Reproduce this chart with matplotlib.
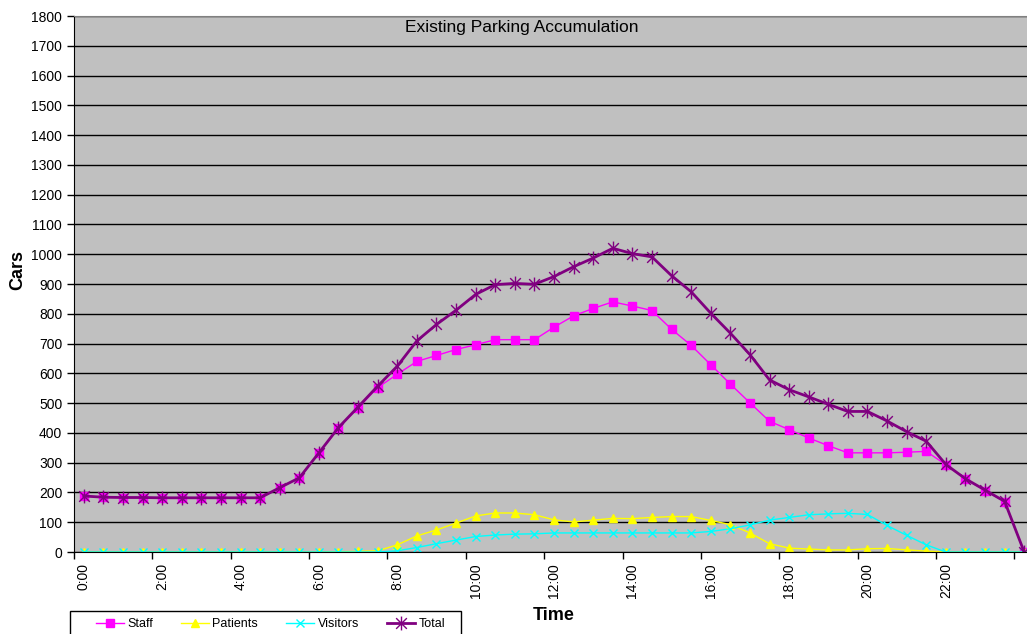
import numpy as np
import matplotlib.pyplot as plt
from matplotlib.path import Path
from matplotlib.patches import Rectangle

plt.rcParams['font.family'] = ['Liberation Sans', 'DejaVu Sans']

# half-hour counts from 0:00 to 24:00
times = ["%d:%02d" % (h // 2, 30 * (h % 2)) for h in range(49)]

staff = [188, 184, 183, 183, 182, 182, 182, 182, 182, 182, 216, 249, 333, 416, 484, 552,
         597, 640, 660, 680, 696, 713, 713, 713, 755, 793, 818, 840, 826, 811, 748, 694,
         629, 564, 501, 439, 411, 383, 357, 333, 333, 333, 335, 338, 293, 245, 206, 169, 0]
patients = [0, 0, 0, 0, 0, 0, 0, 0, 0, 0, 0, 0, 0, 1, 2, 4,
            24, 54, 74, 97, 121, 131, 131, 125, 108, 101, 107, 113, 112, 116, 119, 119,
            106, 92, 64, 28, 13, 10, 7, 7, 11, 12, 7, 3, 0, 0, 0, 0, 0]
visitors = [0, 0, 0, 0, 0, 0, 0, 0, 0, 0, 0, 0, 0, 0, 0, 0,
            4, 15, 28, 40, 52, 57, 60, 61, 64, 64, 64, 64, 64, 64, 64, 64,
            69, 78, 91, 107, 116, 125, 128, 130, 126, 89, 56, 24, 0, 0, 0, 0, 0]
total = [188, 184, 183, 183, 182, 182, 182, 182, 182, 182, 216, 249, 333, 418, 487, 557,
         624, 709, 764, 812, 865, 898, 902, 899, 925, 958, 987, 1020, 1002, 991, 928, 874,
         802, 735, 663, 578, 545, 521, 496, 472, 472, 440, 404, 372, 294, 246, 208, 170, 0]

x = np.arange(len(times))

# asterisk marker: an X with a vertical bar through it
star = Path([(-1, -1), (1, 1), (-1, 1), (1, -1), (0, -1.3), (0, 1.3)],
            [Path.MOVETO, Path.LINETO, Path.MOVETO, Path.LINETO, Path.MOVETO, Path.LINETO])

W, H = 1027, 634
fig = plt.figure(figsize=(W / 100, H / 100), dpi=100)
ax = fig.add_axes([74 / W, 1 - 552 / H, 960 / W, 536 / H])
ax.set_facecolor('#C0C0C0')

ax.plot(x, staff, color='#FF00FF', lw=1, marker='s', ms=6, mec='#FF00FF', label='Staff')
ax.plot(x, patients, color='#FFFF00', lw=1, marker='^', ms=6, mec='#FFFF00', label='Patients')
ax.plot(x, visitors, color='#00FFFF', lw=1, marker='x', ms=6, mew=1, label='Visitors')
ax.plot(x, total, color='#800080', lw=2, marker=star, ms=10, mew=1, label='Total')

ax.set_xlim(-0.5, 48.5)
ax.set_ylim(0, 1800)
ax.set_yticks(np.arange(0, 1801, 100))
ax.tick_params(axis='y', labelsize=10, length=5, direction='out', width=1)
ax.grid(axis='y', color='black', lw=1)
ax.set_axisbelow(True)

ax.set_xticks(x[0:45:4])
ax.set_xticklabels(times[0:45:4], rotation=90, fontsize=10)
ax.set_xticks(np.arange(-0.5, 49, 4), minor=True)
ax.tick_params(axis='x', which='major', length=0, pad=8)
ax.tick_params(axis='x', which='minor', length=5, direction='out', width=1)

ax.spines['top'].set_color('#808080')
ax.spines['right'].set_visible(False)

ax.text(0.466, 0.993, 'Existing Parking Accumulation', transform=ax.transAxes,
        ha='center', va='top', fontsize=12.5)
fig.text(18 / W, 1 - 270 / H, 'Cars', rotation=90, ha='center', va='center',
         fontsize=13, fontweight='bold')
fig.text(554 / W, 1 - 615 / H, 'Time', ha='center', va='center',
         fontsize=13, fontweight='bold')

# legend box runs off the bottom edge
fig.patches.append(Rectangle((70 / W, -0.05), 391 / W, 0.05 + 23 / H, transform=fig.transFigure,
                             facecolor='white', edgecolor='black', lw=1))
fig.legend(loc='upper left', bbox_to_anchor=(96 / W, 1 - 618 / H), ncol=4,
           fontsize=9, frameon=False, borderpad=0, borderaxespad=0, handlelength=2.2,
           handletextpad=0.3, columnspacing=2.25)

fig.savefig('out.png', dpi=100)
